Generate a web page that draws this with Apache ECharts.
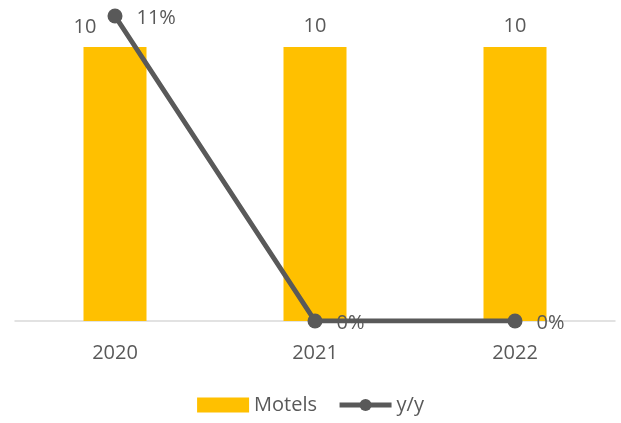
<!DOCTYPE html>
<html>
<head>
<meta charset="utf-8">
<script src="https://cdn.jsdelivr.net/npm/echarts@6/dist/echarts.min.js"></script>
<style>
  html, body { margin: 0; padding: 0; background: #ffffff; }
  #chart { width: 621px; height: 423px; }
</style>
</head>
<body>
<div id="chart"></div>
<script>
// Chart data
const years = ['2020', '2021', '2022'];
const motels = [10, 10, 10];
const yoy = [0.11, 0, 0];

const textColor = '#595959';
const font = 'Open Sans, Liberation Sans, sans-serif';

const chart = echarts.init(document.getElementById('chart'));

chart.setOption({
  animation: false,
  textStyle: { fontFamily: font, color: textColor },
  grid: { left: 15, right: 6, top: 16, bottom: 102, containLabel: false },
  legend: {
    bottom: 3,
    left: 'center',
    itemGap: 20,
    itemWidth: 52,
    itemHeight: 15,
    textStyle: { fontFamily: font, fontSize: 20, color: textColor },
    data: [
      { name: 'Motels', icon: 'rect' },
      { name: 'y/y', lineStyle: { width: 5, color: '#595959' } }
    ]
  },
  xAxis: {
    type: 'category',
    data: years,
    axisLine: { lineStyle: { color: '#D9D9D9', width: 1.5 } },
    axisTick: { show: false },
    axisLabel: { color: textColor, fontSize: 20, fontFamily: font, margin: 22 }
  },
  yAxis: [
    { type: 'value', min: 0, max: 11.13, show: false, splitLine: { show: false } },
    { type: 'value', min: 0, max: 0.11, show: false, splitLine: { show: false } }
  ],
  series: [
    {
      name: 'Motels',
      type: 'bar',
      barWidth: 63,
      itemStyle: { color: '#FFC000' },
      data: motels.map((v, i) => ({
        value: v,
        label: i === 0 ? { offset: [-30, 1] } : {}
      })),
      label: {
        show: true,
        position: 'top',
        distance: 11,
        color: textColor,
        fontSize: 20,
        fontFamily: font
      }
    },
    {
      name: 'y/y',
      type: 'line',
      yAxisIndex: 1,
      data: yoy,
      symbol: 'circle',
      symbolSize: 15,
      lineStyle: { color: '#595959', width: 5 },
      itemStyle: { color: '#595959' },
      label: {
        show: true,
        position: 'right',
        distance: 14,
        offset: [0, 2],
        color: textColor,
        fontSize: 20,
        fontFamily: font,
        formatter: p => Math.round(p.value * 100) + '%'
      }
    }
  ]
});
</script>
</body>
</html>
